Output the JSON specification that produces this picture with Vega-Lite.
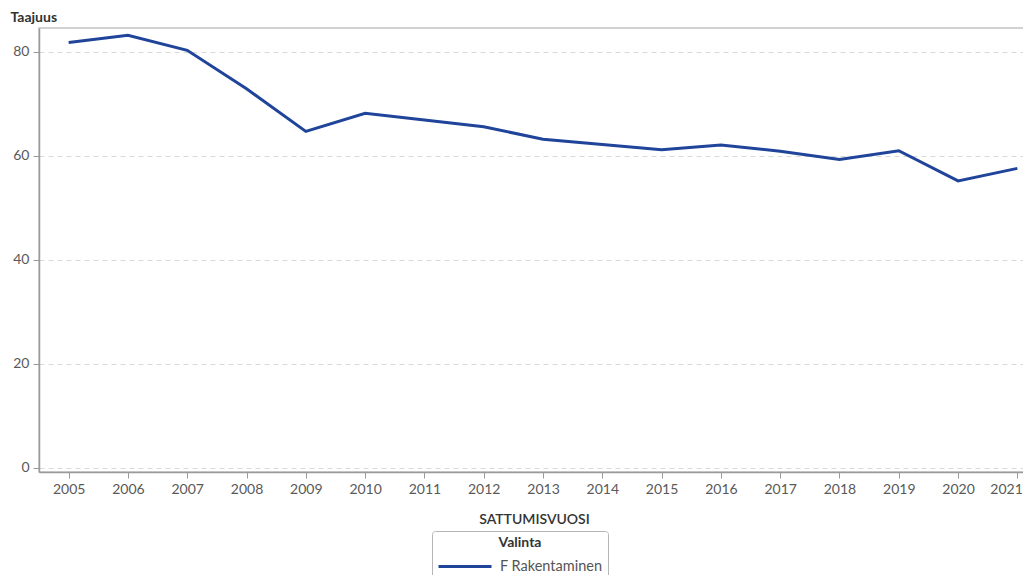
{
  "$schema": "https://vega.github.io/schema/vega-lite/v6.json",
  "autosize": {"type": "none"},
  "padding": {"left": 39, "top": 28, "right": 0, "bottom": 103},
  "width": 1008,
  "height": 444,
  "background": "white",
  "config": {
    "font": "Lato",
    "view": {"stroke": "#c4c4c4", "strokeWidth": 1.5},
    "axis": {
      "labelColor": "#595959",
      "labelFontSize": 14,
      "domainColor": "#9a9a9a",
      "domainWidth": 1.5,
      "tickColor": "#9a9a9a",
      "tickSize": 6,
      "gridColor": "#d9d9d9",
      "gridDash": [5, 4],
      "gridWidth": 1.2
    }
  },
  "data": {
    "values": [
      {"vuosi": 2005, "taajuus": 81.8, "valinta": "F Rakentaminen"},
      {"vuosi": 2006, "taajuus": 83.2, "valinta": "F Rakentaminen"},
      {"vuosi": 2007, "taajuus": 80.3, "valinta": "F Rakentaminen"},
      {"vuosi": 2008, "taajuus": 72.9, "valinta": "F Rakentaminen"},
      {"vuosi": 2009, "taajuus": 64.7, "valinta": "F Rakentaminen"},
      {"vuosi": 2010, "taajuus": 68.2, "valinta": "F Rakentaminen"},
      {"vuosi": 2011, "taajuus": 66.9, "valinta": "F Rakentaminen"},
      {"vuosi": 2012, "taajuus": 65.6, "valinta": "F Rakentaminen"},
      {"vuosi": 2013, "taajuus": 63.2, "valinta": "F Rakentaminen"},
      {"vuosi": 2014, "taajuus": 62.2, "valinta": "F Rakentaminen"},
      {"vuosi": 2015, "taajuus": 61.2, "valinta": "F Rakentaminen"},
      {"vuosi": 2016, "taajuus": 62.1, "valinta": "F Rakentaminen"},
      {"vuosi": 2017, "taajuus": 60.9, "valinta": "F Rakentaminen"},
      {"vuosi": 2018, "taajuus": 59.3, "valinta": "F Rakentaminen"},
      {"vuosi": 2019, "taajuus": 61.0, "valinta": "F Rakentaminen"},
      {"vuosi": 2020, "taajuus": 55.2, "valinta": "F Rakentaminen"},
      {"vuosi": 2021, "taajuus": 57.6, "valinta": "F Rakentaminen"}
    ]
  },
  "mark": {"type": "line", "strokeWidth": 3, "clip": false},
  "encoding": {
    "x": {
      "field": "vuosi",
      "type": "quantitative",
      "scale": {"domain": [2004.5, 2021.5], "nice": false, "zero": false},
      "axis": {
        "values": [2005, 2006, 2007, 2008, 2009, 2010, 2011, 2012, 2013, 2014, 2015, 2016, 2017, 2018, 2019, 2020, 2021],
        "format": "d",
        "grid": false,
        "labelPadding": 4,
        "labelAlign": {"condition": {"test": "datum.value == 2021", "value": "right"}, "value": "center"},
        "labelOffset": {"condition": {"test": "datum.value == 2021", "value": 5}, "value": 0},
        "title": "SATTUMISVUOSI",
        "titleFontSize": 14,
        "titleFontWeight": 600,
        "titleColor": "#333333",
        "titleX": 495,
        "titleY": 40,
        "titleAnchor": "middle"
      }
    },
    "y": {
      "field": "taajuus",
      "type": "quantitative",
      "scale": {"domain": [-0.8, 84.6], "nice": false, "zero": false},
      "axis": {
        "values": [0, 20, 40, 60, 80],
        "labelPadding": 4,
        "domain": true,
        "title": "Taajuus",
        "titleAngle": 0,
        "titleAlign": "left",
        "titleBaseline": "middle",
        "titleX": -29,
        "titleY": -11,
        "titleFontSize": 14,
        "titleFontWeight": "bold",
        "titleColor": "#333333"
      }
    },
    "color": {
      "field": "valinta",
      "type": "nominal",
      "scale": {"range": ["#1f449a"]},
      "legend": {
        "title": "Valinta",
        "orient": "none",
        "legendX": 393,
        "legendY": 503,
        "titleAnchor": "middle",
        "titleFontSize": 14,
        "titleFontWeight": "bold",
        "titleColor": "#333333",
        "titlePadding": 5,
        "labelFontSize": 14.5,
        "labelColor": "#555555",
        "labelOffset": 23.5,
        "symbolType": "M-2.65,0H2.65",
        "symbolOffset": 16.5,
        "symbolStrokeWidth": 3,
        "symbolSize": 400,
        "symbolFillColor": "transparent",
        "strokeColor": "#b5b5b5",
        "cornerRadius": 3,
        "padding": 5,
        "fillColor": "white"
      }
    }
  }
}
